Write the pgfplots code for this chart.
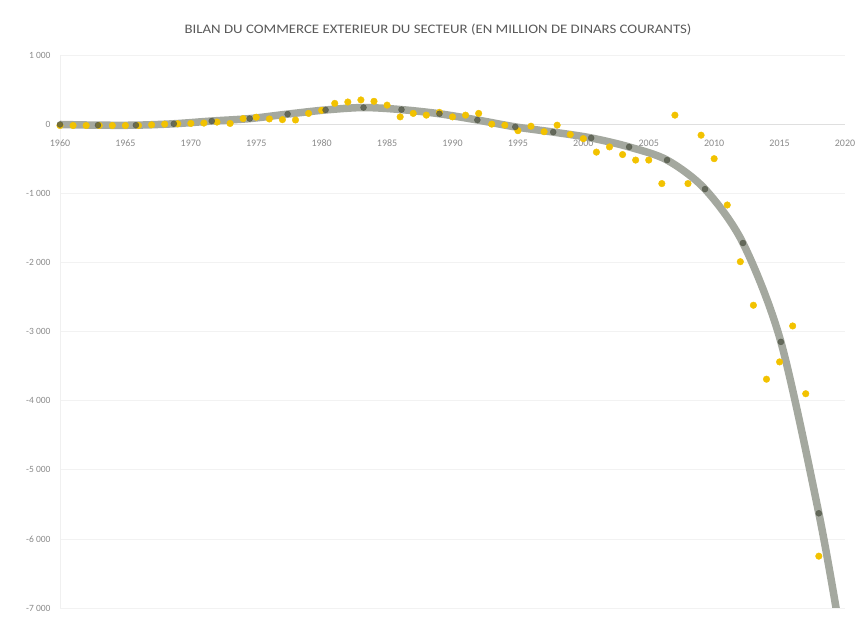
\documentclass[border=0pt]{standalone}
\usepackage{fontspec}
\setmainfont{Carlito}
\usepackage{pgfplots}
\pgfplotsset{compat=1.18}
\definecolor{ptyellow}{HTML}{F2C200}
\definecolor{ptdark}{HTML}{4F5545}
\definecolor{trendgray}{HTML}{A4A89F}
\definecolor{ticktext}{HTML}{8A8A8A}
\definecolor{titletext}{HTML}{595959}
\begin{document}
\begin{tikzpicture}
\begin{axis}[
  name=ax,
  at={(0,0)}, anchor=south west,
  scale only axis, width=785pt, height=553pt,
  xmin=1960, xmax=2020, ymin=-7000, ymax=1000,
  axis x line*=middle, axis y line*=left,
  hide obscured x ticks=false, hide obscured y ticks=false,
  x axis line style={draw=gray!25, line width=0.6pt},
  y axis line style={draw=gray!12, line width=0.6pt},
  xtick={1960,1965,...,2020},
  xticklabels={1960,1965,1970,1975,1980,1985,1990,1995,2000,2005,2010,2015,2020},
  ytick={-7000,-6000,...,1000},
  yticklabels={-7 000,-6 000,-5 000,-4 000,-3 000,-2 000,-1 000,0,1 000},
  major tick length=0pt,
  xticklabel style={font=\fontsize{10}{11}\selectfont, text=ticktext, yshift=-12pt},
  yticklabel style={font=\fontsize{9.5}{10}\selectfont, text=ticktext, xshift=-6pt},
  ymajorgrids, grid style={draw=gray!10, line width=0.6pt},
  clip mode=individual,
]
% trend line
\addplot[smooth, draw=trendgray, line width=7.5pt, line cap=round] coordinates {
(1960,-5)(1962.9,-15)(1965.8,-15)(1968.7,5)(1971.6,45)(1974.5,80)(1977.4,145)
(1980.3,205)(1983.2,240)(1986.1,210)(1989,150)(1991.9,60)(1994.8,-40)(1997.7,-115)
(2000.6,-200)(2003.5,-330)(2006.4,-520)(2009.3,-940)(2012.2,-1720)(2015.1,-3150)
(2018,-5630)(2019.45,-7150)
};
% data points
\addplot[only marks, mark=*, mark size=3.3pt, mark options={fill=ptyellow, draw=ptyellow}] coordinates {
(1960,-20)(1961,-20)(1962,-20)(1963,-20)(1964,-20)(1965,-20)(1966,-20)(1967,-10)
(1968,0)(1969,5)(1970,10)(1971,15)(1972,30)(1973,10)(1974,80)(1975,100)
(1976,75)(1977,65)(1978,60)(1979,155)(1980,200)(1981,300)(1982,320)(1983,350)
(1984,330)(1985,275)(1986,105)(1987,155)(1988,130)(1989,170)(1990,105)(1991,130)
(1992,155)(1993,0)(1994,-15)(1995,-95)(1996,-30)(1997,-110)(1998,-15)(1999,-150)
(2000,-210)(2001,-405)(2002,-330)(2003,-440)(2004,-520)(2005,-520)(2006,-860)
(2007,130)(2008,-860)(2009,-160)(2010,-500)(2011,-1170)(2012,-1990)(2013,-2620)
(2014,-3690)(2015,-3440)(2016,-2920)(2017,-3900)(2018,-6250)
};
% fitted points
\addplot[only marks, mark=*, mark size=3pt, mark options={fill=ptdark, draw=ptdark, opacity=0.75}] coordinates {
(1960,-5)(1962.9,-15)(1965.8,-15)(1968.7,5)(1971.6,45)(1974.5,80)(1977.4,145)
(1980.3,205)(1983.2,240)(1986.1,210)(1989,150)(1991.9,60)(1994.8,-40)(1997.7,-115)
(2000.6,-200)(2003.5,-330)(2006.4,-520)(2009.3,-940)(2012.2,-1720)(2015.1,-3150)
(2018,-5630)
};
\end{axis}
\node[font=\fontsize{13}{14}\selectfont, text=titletext, xscale=1.14] at ([xshift=378pt, yshift=25pt]ax.north west)
  {BILAN DU COMMERCE EXTERIEUR DU SECTEUR (EN MILLION DE DINARS COURANTS)};
\pgfresetboundingbox
\path (ax.south west) ++(-60pt,-16pt) rectangle ++(855pt,624pt);
\end{tikzpicture}
\end{document}
